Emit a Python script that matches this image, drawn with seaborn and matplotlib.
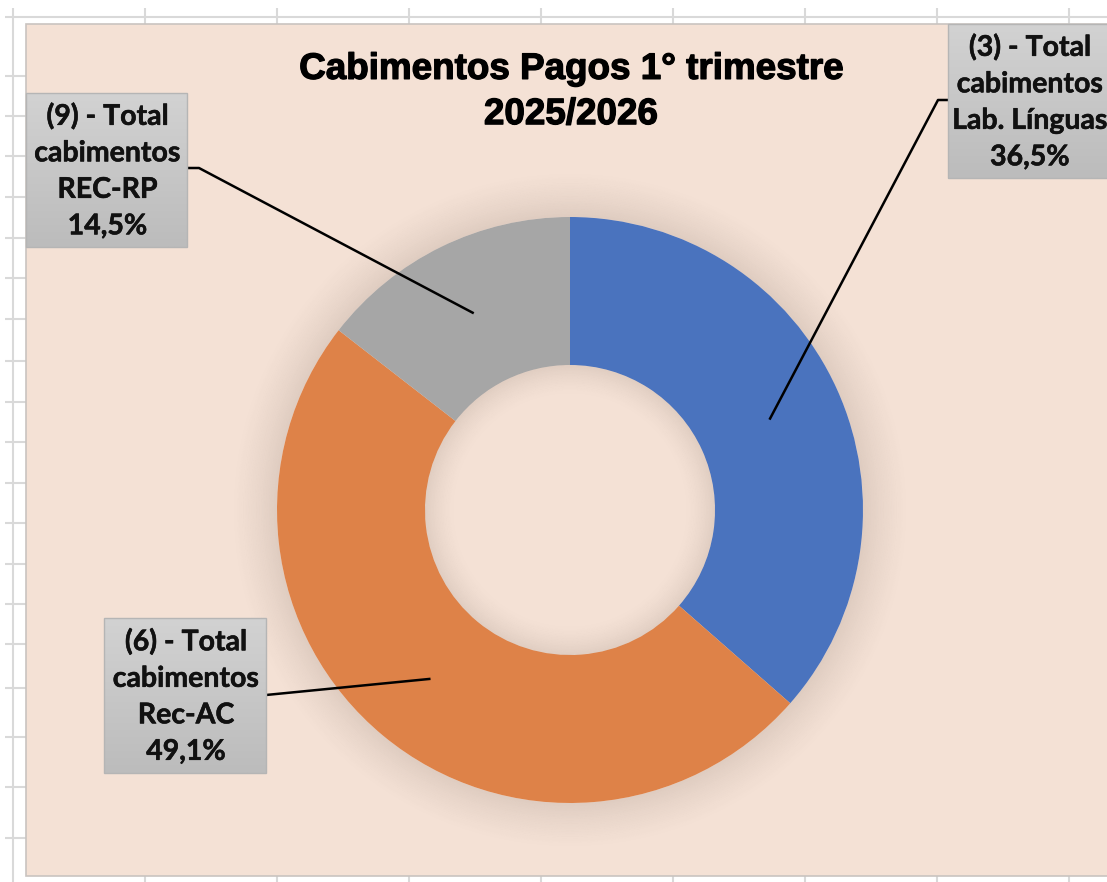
# Cabimentos Pagos 1° trimestre 2025/2026 - gráfico de anel (estilo Excel)

import numpy as np
import matplotlib
matplotlib.use("Agg")
import matplotlib.pyplot as plt
import matplotlib.patheffects as pe
from matplotlib.patches import Rectangle, Wedge
from matplotlib.colors import LinearSegmentedColormap
import seaborn as sns

# Dados
categorias = ["Lab. Línguas", "Rec-AC", "REC-RP"]
codigos = [3, 6, 9]
percentagens = [36.5, 49.1, 14.5]
cores = ["#4A73BE", "#DE8248", "#A6A6A6"]
titulo = "Cabimentos Pagos 1° trimestre\n2025/2026"

sns.set_theme(style="white")
plt.rcParams["font.family"] = ["Lato", "DejaVu Sans"]

W, H = 1107, 882
fig = plt.figure(figsize=(W / 100, H / 100), dpi=100, facecolor="white")
ax = fig.add_axes([0, 0, 1, 1])
ax.set_axis_off()


def py(y):
    # posição em pixels (a partir do topo) -> coordenada do eixo
    return H - y


# grelha da folha de cálculo por trás do gráfico
colunas = [13, 145, 277, 409, 541, 673, 805, 937, 1069]
linhas = [17, 76, 116, 156, 197, 238, 278, 319, 361, 402, 442, 483, 523,
          564, 604, 644, 688, 737, 787, 838]
ax.hlines([py(y) for y in linhas], 5, W, color="#D9D9D9", lw=1.5, zorder=0)
ax.vlines(colunas, py(H + 5), py(8), color="#D9D9D9", lw=1.5, zorder=0)

# área do gráfico
ax.add_patch(Rectangle((26, py(876)), W, 876 - 24, facecolor="#F4E1D5",
                       edgecolor="#C9C4C0", lw=1.2, zorder=1))

# anel
cx, cy = 570, py(510)
r_ext, largura = 293, 148
r_int = r_ext - largura

# sombra suave à volta do anel
n = 28
for i in range(n):
    t = i / n
    ax.add_patch(Wedge((cx, cy), r_ext + (i + 1) * 1.6, 0, 360, width=1.6,
                       facecolor="#3A2A20", alpha=0.11 * (1 - t) ** 1.4,
                       lw=0, zorder=2))

wedges, _ = ax.pie(percentagens, colors=cores, startangle=90, counterclock=False,
                   radius=r_ext, center=(cx, cy),
                   wedgeprops=dict(width=largura, linewidth=0))
for w in wedges:
    w.set_zorder(3)

# sombra interior no buraco
for i in range(20):
    t = i / 20
    ax.add_patch(Wedge((cx, cy), r_int - i * 1.5, 0, 360, width=1.5,
                       facecolor="#3A2A20", alpha=0.10 * (1 - t) ** 1.5,
                       lw=0, zorder=4))

# rótulos (caixa: x, y topo, largura, altura em pixels) e ponto de quebra da linha
caixas = [(948, 24, 162, 154), (104, 618, 162, 155), (26, 93, 161, 154)]
quebras = [(938, 100), (266, 695), (199, 168)]
saidas = [(948, 100), (266, 695), (187, 168)]

cmap_caixa = LinearSegmentedColormap.from_list("cx", ["#BCBCBC", "#D2D2D2"])
grad = np.linspace(0, 1, 64).reshape(-1, 1)

for w, cod, nome, pct, cx_, qb, sd in zip(wedges, codigos, categorias,
                                          percentagens, caixas, quebras, saidas):
    ang = np.deg2rad((w.theta1 + w.theta2) / 2)
    r_mid = r_ext - largura / 2
    ax_x = cx + r_mid * np.cos(ang)
    ax_y = cy + r_mid * np.sin(ang)
    ax.plot([sd[0], qb[0], ax_x], [py(sd[1]), py(qb[1]), ax_y],
            color="black", lw=1.8, zorder=5, solid_capstyle="butt")

    x0, y0, bw, bh = cx_
    ax.imshow(grad, extent=(x0, x0 + bw, py(y0 + bh), py(y0)), cmap=cmap_caixa,
              aspect="auto", origin="lower", zorder=6)
    ax.add_patch(Rectangle((x0, py(y0 + bh)), bw, bh, facecolor="none",
                           edgecolor="#B5B5B5", lw=1, zorder=7))
    texto = f"({cod}) - Total\ncabimentos\n{nome}\n" + f"{pct:.1f}%".replace(".", ",")
    ax.text(x0 + bw / 2 + 1, py(y0 + bh / 2 + 1), texto, ha="center", va="center",
            fontsize=20.5, fontweight="bold", color="#111111", linespacing=1.5,
            zorder=8, path_effects=[pe.withStroke(linewidth=0.4, foreground="#111111")])

# título
ax.text(571, py(92), titulo, ha="center", va="center", fontsize=26.5,
        fontweight="bold", family=["Liberation Sans", "DejaVu Sans"],
        color="black", linespacing=1.38, zorder=8,
        path_effects=[pe.withStroke(linewidth=0.9, foreground="black")])

ax.set_xlim(0, W)
ax.set_ylim(0, H)
ax.set_aspect("auto")

fig.savefig("out.png", dpi=100, facecolor="white")
